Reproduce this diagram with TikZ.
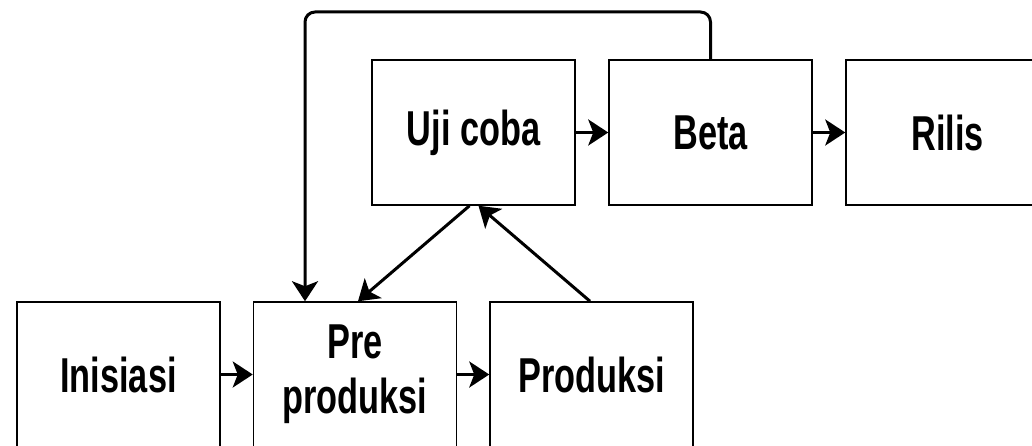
\documentclass[tikz,border=0pt]{standalone}
\usepackage{fontspec}
\setmainfont{Liberation Sans}[FakeStretch=0.7]
\usetikzlibrary{arrows.meta}
\tikzset{
    box/.style={draw, line width=1.5pt, minimum width=203pt, minimum height=145pt, align=center, font=\fontsize{49}{55}\selectfont\bfseries}, % kotak tahap
    flow/.style={line width=3pt, -{Stealth[length=20pt, width=26pt, inset=5pt]}} % panah alur
}
\begin{document}
\begin{tikzpicture}[x=1pt, y=-1pt]
    \useasboundingbox (0,0) rectangle (1032,446);
    \clip (0,0) rectangle (1032,446);

    % baris bawah
    \node[box] (inisiasi) at (118.5,374.5) {Inisiasi};
    \node[box] (pre) at (355,374.5) {Pre\\produksi};
    \node[box] (produksi) at (591.5,374.5) {Produksi};
    % baris atas
    \node[box] (uji) at (473.5,132.5) {Uji coba};
    \node[box] (beta) at (710.5,132.5) {Beta};
    \node[box] (rilis) at (947.5,132.5) {Rilis};

    \draw[flow] (inisiasi) -- (pre);
    \draw[flow] (pre) -- (produksi);
    \draw[flow] (uji) -- (beta);
    \draw[flow] (beta) -- (rilis);
    \draw[flow] ([xshift=-4pt]uji.south) -- ([xshift=3pt]pre.north);
    \draw[flow] ([xshift=-1.5pt]produksi.north) -- ([xshift=5pt]uji.south);

    \coordinate (atas) at (305,12);
    \draw[flow, rounded corners=10pt] (beta.north) |- (atas) -- ([xshift=-50pt]pre.north);
\end{tikzpicture}
\end{document}
